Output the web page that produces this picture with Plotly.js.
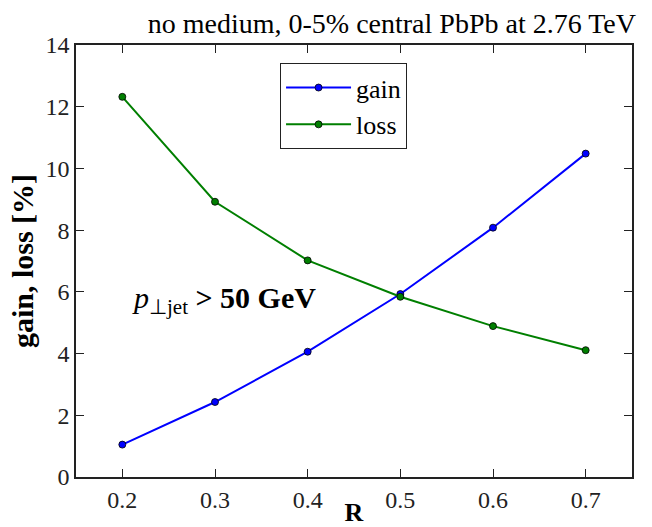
<!DOCTYPE html>
<html><head><meta charset="utf-8">
<script src="https://cdn.plot.ly/plotly-3.0.1.min.js"></script>
<style>body{margin:0;padding:0;background:#fff}#plot{width:652px;height:527px}</style>
</head><body><div id="plot"></div>
<script>
const R = [0.2, 0.3, 0.4, 0.5, 0.6, 0.7];
const gain = [1.05, 2.43, 4.06, 5.93, 8.08, 10.48];
const loss = [12.32, 8.92, 7.02, 5.84, 4.89, 4.11];
const xTicks = [0.2, 0.3, 0.4, 0.5, 0.6, 0.7];
const yTicks = [0, 2, 4, 6, 8, 10, 12, 14];
const F = "Liberation Serif, serif";

const traces = [
  {x: R, y: gain, name: 'gain', mode: 'lines+markers', type: 'scatter',
   line: {color: '#0000ff', width: 2},
   marker: {color: '#0000ff', size: 7, line: {color: '#000000', width: 0.8}}},
  {x: R, y: loss, name: 'loss', mode: 'lines+markers', type: 'scatter',
   line: {color: '#007f00', width: 2},
   marker: {color: '#007f00', size: 7, line: {color: '#000000', width: 0.8}}}
];
const axisCommon = {showline: true, mirror: 'ticks', linecolor: '#222', linewidth: 1.5,
  ticks: 'inside', ticklen: 8, tickwidth: 1, tickcolor: '#222', showgrid: false, zeroline: false,
  tickfont: {family: F, size: 24, color: '#222'}};
const layout = {
  width: 652, height: 527,
  margin: {l: 76, r: 20, t: 45, b: 50},
  paper_bgcolor: '#fff', plot_bgcolor: '#fff',
  font: {family: F, color: '#000'},
  title: {text: 'no medium, 0-5% central PbPb at 2.76 TeV', font: {family: F, size: 28, color: '#000'},
          x: 0.601, xanchor: 'center', xref: 'container', y: 0.975, yanchor: 'top', yref: 'container'},
  xaxis: Object.assign({}, axisCommon, {range: [0.15, 0.75], tickvals: xTicks, ticktext: xTicks.map(v => v.toFixed(1)),
    title: {text: '<b>R</b>', font: {family: F, size: 26, color: '#000'}, standoff: 3}}),
  yaxis: Object.assign({}, axisCommon, {range: [0, 14], tickvals: yTicks, ticktext: yTicks.map(String),
    title: {text: '<b>gain, loss [%]</b>', font: {family: F, size: 30, color: '#000'}, standoff: 3}}),
  showlegend: true,
  legend: {x: 0.367, y: 0.958, xanchor: 'left', yanchor: 'top', bgcolor: '#fff',
    bordercolor: '#222', borderwidth: 1, font: {family: F, size: 26, color: '#000'},
    itemwidth: 65, tracegroupgap: 0},
  annotations: [{x: 0.2083, y: 5.75, xref: 'x', yref: 'y', xanchor: 'left', yanchor: 'middle', showarrow: false,
    text: '<i>p</i><sub>⊥jet</sub> <b>&gt; 50 GeV</b>', font: {family: F, size: 30, color: '#000'}}]
};
Plotly.newPlot('plot', traces, layout, {displayModeBar: false});
</script></body></html>
